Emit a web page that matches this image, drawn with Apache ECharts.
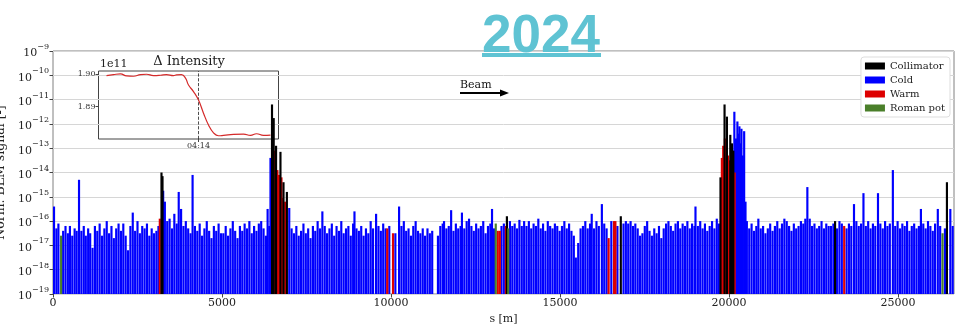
<!DOCTYPE html>
<html>
<head>
<meta charset="utf-8">
<script src="https://cdn.jsdelivr.net/npm/echarts@6/dist/echarts.min.js"></script>
<style>
  html, body { margin: 0; padding: 0; background: #fff; }
  #main { width: 961px; height: 326px; }
</style>
</head>
<body>
<div id="main"></div>
<script>
// BLM losses along the ring, s in metres, signal as log10 exponent
var coldS = [
  30, 100, 160, 300, 370, 440, 500, 570, 640, 700, 770, 840, 910, 970,
  1040, 1100, 1170, 1240, 1310, 1380, 1450, 1520, 1590, 1660, 1730, 1800, 1870, 1940,
  2010, 2080, 2150, 2220, 2290, 2360, 2430, 2500, 2570, 2640, 2710, 2780, 2850, 2920, 2990,
  3060, 3120, 3260, 3310, 3380, 3450, 3520, 3590, 3660, 3720, 3790, 3860, 3930,
  4000, 4070, 4130, 4200, 4270, 4340, 4410, 4480, 4550, 4620, 4690, 4760, 4830, 4900, 4970,
  5040, 5110, 5180, 5250, 5320, 5390, 5460, 5530, 5600, 5670, 5740, 5810, 5880, 5950, 6020, 6090, 6160, 6230, 6300, 6350, 6400,
  6435, 6990,
  7060, 7130, 7200, 7270, 7340, 7410, 7480, 7550, 7620, 7690, 7760, 7830, 7900, 7970,
  8040, 8110, 8180, 8250, 8320, 8390, 8460, 8530, 8600, 8670, 8740, 8810, 8880, 8920, 8980,
  9050, 9120, 9190, 9260, 9330, 9400, 9470, 9560, 9630, 9700, 9770, 9840, 9950,
  10130, 10240, 10310, 10380, 10450, 10520, 10590, 10660, 10730, 10800, 10870, 10940,
  11010, 11080, 11150, 11220, 11390, 11460, 11530, 11570, 11640, 11710, 11780, 11850, 11920, 11990,
  12060, 12100, 12170, 12240, 12310, 12380, 12450, 12520, 12590, 12660, 12730, 12800, 12870, 12940, 12990,
  13050, 13270, 13340, 13520, 13590, 13660, 13730, 13800, 13870, 13940,
  14010, 14080, 14150, 14220, 14290, 14360, 14430, 14500, 14570, 14640, 14710, 14780, 14850, 14920, 14990,
  15060, 15130, 15200, 15270, 15340, 15410, 15470, 15540, 15610, 15680, 15750, 15820, 15890, 15940,
  16010, 16080, 16150, 16240, 16310, 16380, 16520, 16700, 16880, 16950,
  17020, 17090, 17160, 17230, 17300, 17370, 17440, 17510, 17580, 17650, 17720, 17790, 17860, 17930,
  18000, 18070, 18140, 18210, 18280, 18350, 18420, 18490, 18560, 18630, 18700, 18770, 18840, 18910, 18980,
  19010, 19080, 19150, 19220, 19290, 19360, 19430, 19500, 19570, 19640, 19700,
  20160, 20210, 20250, 20290, 20310, 20350, 20370, 20410, 20450, 20490, 20530,
  20600, 20670, 20740, 20810, 20870, 20940,
  21010, 21080, 21150, 21220, 21290, 21360, 21430, 21500, 21570, 21640, 21710, 21780, 21850, 21920, 21990,
  22060, 22130, 22200, 22260, 22320, 22390, 22460, 22530, 22600, 22670, 22740, 22810, 22880, 22950,
  23020, 23090, 23200, 23270, 23340, 23480, 23550, 23620, 23700, 23770, 23840, 23910, 23980,
  24050, 24120, 24190, 24260, 24330, 24410, 24480, 24550, 24620, 24690, 24760, 24850, 24920, 24990,
  25060, 25130, 25200, 25270, 25340, 25410, 25480, 25550, 25620, 25680, 25750, 25820, 25890, 25960, 26030, 26100, 26180, 26250, 26390, 26550, 26620
];
var coldE = [
  -15.4, -16.3, -16.1, -16.4, -16.2, -16.5, -16.2, -16.6, -16.3, -16.4, -14.3, -16.4, -16.2, -16.6,
  -16.3, -16.5, -17.1, -16.2, -16.4, -16.1, -16.6, -16.3, -16.0, -16.5, -16.2, -16.7, -16.3, -16.1,
  -16.4, -16.1, -16.6, -17.2, -16.2, -15.65, -16.4, -16.0, -16.5, -16.2, -16.3, -16.1, -16.6, -16.3, -16.5,
  -16.4, -16.2, -14.75, -15.2, -16.0, -15.9, -16.3, -15.7, -16.1, -14.8, -15.5, -16.2, -16.0,
  -16.3, -16.5, -14.1, -16.2, -16.4, -16.1, -16.6, -16.3, -16.0, -16.4, -16.7, -16.2, -16.4, -16.1, -16.5,
  -16.5, -16.2, -16.6, -16.3, -16.0, -16.4, -16.7, -16.2, -16.4, -16.1, -16.3, -16.0, -16.5, -16.2, -16.4, -16.1, -16.0, -16.3, -16.6, -15.5, -16.2,
  -13.4, -15.46,
  -16.3, -16.5, -16.2, -16.6, -16.4, -16.1, -16.5, -16.3, -16.7, -16.2, -16.4, -16.0, -16.3, -15.6,
  -16.2, -16.5, -16.3, -16.1, -16.6, -16.2, -16.4, -16.0, -16.5, -16.3, -16.2, -16.6, -16.1, -15.6, -16.3,
  -16.4, -16.2, -16.6, -16.3, -16.5, -16.0, -16.3, -15.7, -16.2, -16.4, -16.1, -16.3, -16.2,
  -16.5, -15.4, -16.2, -16.0, -16.4, -16.3, -16.6, -16.2, -16.0, -16.4, -16.5, -16.3,
  -16.6, -16.3, -16.5, -16.4, -16.6, -16.2, -16.1, -16.0, -16.3, -16.2, -15.55, -16.4, -16.1, -16.3,
  -16.2, -15.65, -16.3, -16.0, -15.9, -16.2, -16.4, -16.1, -16.3, -16.2, -16.0, -16.5, -16.2, -16.1, -15.5,
  -16.3, -16.2, -16.1, -16.0, -16.2, -16.1, -16.3, -15.95, -16.2, -16.0,
  -16.2, -16.0, -16.3, -16.1, -16.2, -15.9, -16.3, -16.1, -16.4, -16.0, -16.2, -16.3, -16.1, -16.2, -16.4,
  -16.2, -16.0, -16.3, -16.1, -16.4, -16.6, -17.5, -16.9, -16.3, -16.2, -16.0, -16.3, -16.1, -15.7,
  -16.3, -16.0, -16.2, -15.3, -16.1, -16.3, -16.0, -16.2, -16.1, -16.0,
  -16.1, -16.0, -16.2, -16.1, -16.3, -16.6, -16.5, -16.2, -16.0, -16.4, -16.6, -16.3, -16.5, -16.2,
  -16.7, -16.3, -16.1, -16.0, -16.2, -16.4, -16.1, -16.0, -16.3, -16.1, -16.2, -16.0, -16.3, -16.1, -16.2,
  -15.4, -16.2, -16.0, -16.3, -16.1, -16.4, -16.2, -16.0, -16.3, -15.9, -16.1,
  -11.5, -12.6, -11.9, -12.4, -12.1, -12.8, -12.2, -13.3, -12.3, -15.2, -16.0,
  -16.3, -16.1, -16.4, -16.2, -15.9, -16.3,
  -16.2, -16.5, -16.3, -16.1, -16.4, -16.2, -16.0, -16.3, -16.1, -15.9, -16.0, -16.2, -16.4, -16.1, -16.3,
  -16.2, -16.0, -16.1, -15.9, -14.6, -15.9, -16.2, -16.1, -16.3, -16.2, -16.0, -16.3, -16.1, -16.2,
  -16.2, -16.1, -16.3, -16.0, -16.1, -16.3, -16.1, -16.2, -15.3, -16.0, -16.2, -16.1, -14.85,
  -16.2, -16.0, -16.3, -16.1, -16.2, -14.85, -16.1, -16.3, -16.0, -16.2, -16.1, -13.9, -16.2, -16.0,
  -16.3, -16.1, -16.2, -16.0, -16.4, -16.2, -16.1, -16.3, -16.2, -15.5, -16.1, -16.3, -16.0, -16.2, -16.4, -16.1, -15.5, -16.2, -16.3, -15.5, -16.2
];
var warmS = [3160, 6500, 6560, 6640, 6690, 6760, 6800, 6870, 9890, 10060, 13160, 13220, 13400, 16440, 16600, 16640,
  19790, 19830, 19880, 19920, 19970, 20010, 20060, 20110, 20170, 23410];
var warmE = [-15.9, -13.0, -13.1, -13.9, -14.1, -14.2, -15.05, -15.2, -16.3, -16.5, -16.4, -16.4, -16.2, -16.7, -16.0, -16.0,
  -13.4, -12.9, -12.6, -13.0, -13.3, -13.5, -13.6, -13.8, -14.0, -16.2];
var collS = [3210, 3240, 6480, 6530, 6600, 6730, 6820, 6920, 13430, 16800, 19750, 19870, 19940, 20040, 20090, 20130, 23140, 26450];
var collE = [-14.0, -14.15, -11.2, -11.76, -12.9, -13.15, -14.4, -14.8, -15.8, -15.8, -14.2, -11.2, -11.7, -12.45, -12.8, -13.1, -16.0, -14.4];
var potS = [240, 13100, 13470, 26320];
var potE = [-16.6, -16.1, -16.3, -16.5];

// inset: beam intensity (1e11 charges) around 04:14, time in seconds
var intT = [162, 169, 176, 182, 189, 196, 202, 209, 216, 222, 229, 232, 237, 241, 244, 249, 254, 259, 264, 269, 274, 279, 289, 299, 306, 312, 319, 326];
var intV = [1.8995, 1.8998, 1.9000, 1.8994, 1.8993, 1.8998, 1.8999, 1.8995, 1.8996, 1.8998, 1.8995, 1.8997, 1.8998, 1.8987,
  1.8966, 1.8946, 1.8920, 1.8880, 1.8844, 1.8820, 1.8811, 1.8812, 1.8815, 1.8816, 1.8812, 1.8817, 1.8812, 1.8813];
var dumpT = 254;

var xTicks = [0, 5000, 10000, 15000, 20000, 25000];
var yDecades = [-19, -9]; // axis runs over the exponent, one tick per decade
var insetYTicks = [1.89, 1.90];

var SERIF = '"DejaVu Serif", serif';
var BAR_W = 64; // metres

function pairs(s, e) {
  return s.map(function (x, i) { return [x, e[i]]; });
}

function renderBar(params, api) {
  var s = api.value(0);
  var top = api.coord([s, api.value(1)]);
  var bot = api.coord([s, yDecades[0]]);
  var w = api.size([BAR_W, 0])[0];
  return {
    type: 'rect',
    shape: { x: top[0] - w / 2, y: top[1], width: w, height: bot[1] - top[1] },
    style: { fill: api.visual('color') }
  };
}

function barSeries(name, color, s, e, z) {
  return {
    name: name,
    type: 'custom',
    renderItem: renderBar,
    xAxisIndex: 0, yAxisIndex: 0,
    encode: { x: 0, y: 1 },
    itemStyle: { color: color },
    clip: true,
    z: z,
    data: pairs(s, e)
  };
}

var chart = echarts.init(document.getElementById('main'));
var option = {
  animation: false,
  textStyle: { fontFamily: SERIF },
  legend: {
    data: ['Collimator', 'Cold', 'Warm', 'Roman pot'],
    orient: 'vertical',
    right: 11, top: 57,
    icon: 'rect',
    itemWidth: 20, itemHeight: 7, itemGap: 2,
    padding: [3, 5, 3, 4],
    backgroundColor: '#fff',
    borderColor: '#ddd', borderWidth: 1, borderRadius: 3,
    textStyle: { fontFamily: SERIF, fontSize: 10, color: '#222', lineHeight: 12 }
  },
  grid: [
    { left: 53, right: 7, top: 51, bottom: 32, show: true, borderColor: '#808080', borderWidth: 1, outerBoundsMode: 'none', containLabel: false },
    { left: 98.5, top: 71, width: 180, height: 68, show: true, borderColor: '#444', borderWidth: 1, backgroundColor: 'transparent', outerBoundsMode: 'none', containLabel: false }
  ],
  xAxis: [{
    type: 'value', gridIndex: 0, min: 0, max: 26659,
    name: 's [m]', nameLocation: 'middle', nameGap: 19,
    nameTextStyle: { fontFamily: SERIF, fontSize: 11, color: '#222' },
    axisLine: { show: false },
    axisTick: { show: true, length: 3.5, lineStyle: { color: '#444' }, customValues: xTicks },
    axisLabel: {
      fontFamily: SERIF, fontSize: 11, color: '#222', margin: 4, customValues: xTicks,
      formatter: function (v) { return String(v); }
    },
    splitLine: { show: false }
  }, {
    type: 'value', gridIndex: 1, min: 154, max: 334,
    axisLine: { show: false },
    axisTick: { show: true, length: 3, lineStyle: { color: '#444' }, customValues: [dumpT] },
    axisLabel: {
      fontFamily: SERIF, fontSize: 8, color: '#333', margin: 3, customValues: [dumpT],
      formatter: function (v) {
        var m = Math.floor(v / 60), s = Math.round(v % 60);
        return (m < 10 ? '0' : '') + m + ':' + (s < 10 ? '0' : '') + s;
      }
    },
    splitLine: { show: false }
  }],
  yAxis: [{
    type: 'value', gridIndex: 0, min: yDecades[0], max: yDecades[1], interval: 1,
    name: 'Norm. BLM signal [-]', nameLocation: 'middle', nameGap: 44, nameRotate: 90,
    nameTextStyle: { fontFamily: SERIF, fontSize: 12.5, color: '#222' },
    axisLine: { show: false },
    axisTick: { show: true, length: 3.5, lineStyle: { color: '#444' } },
    axisLabel: {
      margin: 4,
      formatter: function (v) {
        return '{b|10}{s|\u2212' + Math.abs(Math.round(v)) + '}';
      },
      rich: {
        b: { fontFamily: SERIF, fontSize: 11, color: '#222', lineHeight: 16, verticalAlign: 'bottom' },
        s: { fontFamily: SERIF, fontSize: 8, color: '#222', lineHeight: 16, verticalAlign: 'top' }
      }
    },
    splitLine: { show: true, lineStyle: { color: '#d6d6d6', width: 1 } }
  }, {
    type: 'value', gridIndex: 1, min: 1.8801, max: 1.9009,
    axisLine: { show: false },
    axisTick: { show: true, length: 3, lineStyle: { color: '#444' }, customValues: insetYTicks },
    axisLabel: {
      fontFamily: SERIF, fontSize: 8, color: '#333', margin: 3, customValues: insetYTicks,
      formatter: function (v) { return v.toFixed(2); }
    },
    splitLine: { show: false }
  }],
  series: [
    barSeries('Cold', '#0000ff', coldS, coldE, 2),
    barSeries('Warm', '#dd0000', warmS, warmE, 3),
    barSeries('Collimator', '#000000', collS, collE, 4),
    barSeries('Roman pot', '#4a7f2a', potS, potE, 5),
    {
      name: 'Intensity',
      type: 'line',
      xAxisIndex: 1, yAxisIndex: 1,
      smooth: true,
      showSymbol: false,
      lineStyle: { color: '#d42a2a', width: 1.2 },
      data: intT.map(function (t, i) { return [t, intV[i]]; }),
      z: 6,
      markLine: {
        silent: true,
        symbol: ['none', 'none'],
        label: { show: false },
        lineStyle: { type: 'dashed', color: '#222', width: 0.8 },
        data: [{ xAxis: dumpT }]
      }
    }
  ],
  graphic: [
    {
      type: 'text', x: 541, y: 11,
      style: { text: '2024', font: 'bold 53px "Liberation Sans", Arial, sans-serif', fill: '#5fc3d3', align: 'center', verticalAlign: 'top' },
      z: 10
    },
    { type: 'rect', shape: { x: 482, y: 53, width: 119, height: 4 }, style: { fill: '#5fc3d3' }, z: 10 },
    { type: 'text', x: 189, y: 62, style: { text: '\u0394 Intensity', font: '13px ' + SERIF, fill: '#222', align: 'center', verticalAlign: 'middle' } },
    { type: 'text', x: 100, y: 64, style: { text: '1e11', font: '11px ' + SERIF, fill: '#222', align: 'left', verticalAlign: 'middle' } },
    { type: 'text', x: 460, y: 85, style: { text: 'Beam', font: '11px ' + SERIF, fill: '#111', align: 'left', verticalAlign: 'middle' } },
    { type: 'line', shape: { x1: 460, y1: 93, x2: 501, y2: 93 }, style: { stroke: '#000', lineWidth: 2 } },
    { type: 'polygon', shape: { points: [[500, 89.5], [509, 93], [500, 96.5]] }, style: { fill: '#000' } }
  ]
};
chart.setOption(option);
</script>
</body>
</html>
